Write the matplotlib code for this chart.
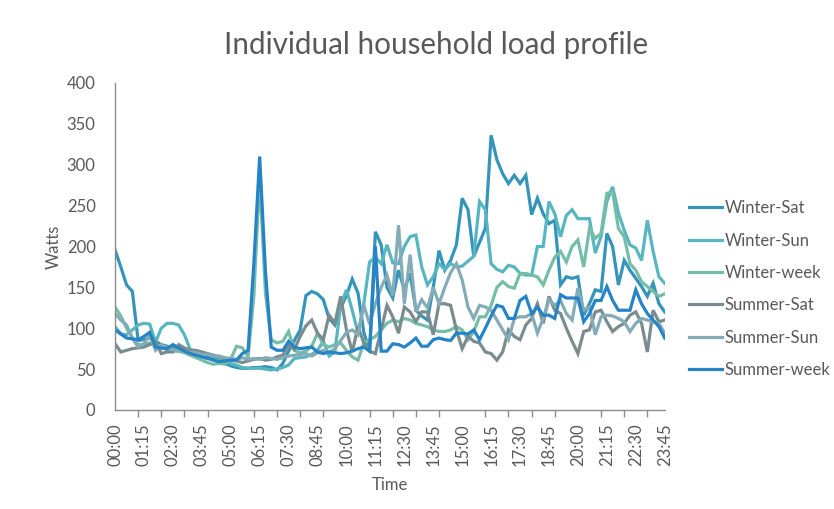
import matplotlib
matplotlib.use("Agg")
import matplotlib.pyplot as plt

plt.rcParams['font.family'] = ['Lato', 'DejaVu Sans']

# 15-minute slots, 00:00 .. 23:45
times = [f"{h:02d}:{m:02d}" for h in range(24) for m in (0, 15, 30, 45)]

winter_sat = [196, 175, 153, 145, 85, 86, 88, 84, 80, 78, 76, 75, 74, 72, 70, 68,
              65, 62, 60, 57, 54, 52, 51, 51, 52, 52, 53, 52, 49, 57, 72, 85,
              98, 140, 145, 142, 135, 112, 104, 125, 140, 160, 143, 95, 72, 218, 202, 150,
              137, 171, 147, 167, 122, 115, 110, 150, 195, 171, 183, 202, 259, 245, 188, 205,
              222, 336, 306, 289, 277, 287, 277, 287, 239, 259, 240, 228, 232, 153, 163, 161,
              163, 116, 130, 147, 145, 216, 200, 153, 183, 171, 161, 151, 139, 155, 130, 120]
winter_sun = [102, 93, 92, 98, 104, 106, 105, 83, 100, 106, 106, 104, 92, 74, 72, 70,
              68, 66, 63, 60, 57, 55, 52, 51, 51, 51, 50, 49, 50, 52, 55, 63,
              64, 65, 68, 73, 84, 66, 71, 128, 147, 122, 94, 130, 181, 187, 179, 202,
              180, 179, 200, 212, 214, 175, 153, 163, 179, 172, 179, 175, 176, 182, 188, 255,
              245, 179, 172, 169, 177, 175, 167, 165, 165, 200, 200, 255, 240, 212, 238, 245,
              234, 234, 234, 192, 212, 255, 273, 241, 220, 202, 198, 183, 232, 194, 163, 155]
winter_week = [126, 115, 100, 88, 80, 80, 82, 78, 76, 74, 72, 72, 70, 67, 64, 61,
               58, 56, 57, 56, 62, 78, 76, 65, 140, 285, 143, 86, 82, 84, 96, 73,
               70, 72, 78, 94, 80, 77, 80, 82, 73, 65, 61, 82, 86, 90, 98, 106,
               110, 108, 112, 110, 106, 104, 102, 98, 96, 96, 98, 102, 98, 86, 96, 114,
               114, 128, 150, 157, 151, 149, 167, 167, 165, 163, 153, 171, 187, 194, 181, 200,
               208, 175, 222, 210, 216, 265, 267, 222, 212, 179, 171, 157, 151, 145, 139, 142]
summer_sat = [81, 71, 73, 75, 76, 77, 80, 84, 69, 71, 71, 80, 76, 73, 73, 71,
              69, 67, 65, 63, 61, 60, 58, 60, 62, 63, 61, 62, 65, 67, 80, 74,
              90, 103, 110, 94, 86, 116, 106, 139, 98, 71, 102, 82, 72, 69, 98, 128,
              114, 94, 126, 120, 108, 120, 120, 92, 130, 130, 128, 98, 75, 90, 84, 82,
              71, 69, 61, 71, 98, 90, 86, 104, 112, 130, 106, 139, 122, 118, 100, 84,
              69, 96, 98, 120, 122, 108, 96, 102, 106, 116, 120, 106, 71, 122, 108, 110]
summer_sun = [118, 110, 104, 88, 77, 81, 92, 73, 80, 76, 74, 72, 72, 70, 70, 68,
              68, 66, 66, 64, 63, 62, 64, 62, 63, 62, 64, 63, 62, 64, 66, 67,
              68, 69, 66, 70, 73, 70, 75, 85, 95, 98, 92, 128, 105, 130, 150, 165,
              140, 226, 130, 190, 120, 135, 125, 150, 130, 150, 168, 179, 159, 126, 112, 128,
              126, 122, 110, 98, 86, 112, 114, 114, 118, 94, 112, 135, 128, 134, 118, 110,
              149, 122, 126, 92, 114, 116, 115, 112, 108, 96, 106, 112, 110, 108, 106, 94]
summer_week = [98, 93, 88, 87, 86, 90, 95, 77, 76, 75, 80, 76, 72, 69, 67, 65,
               63, 61, 59, 60, 61, 61, 69, 73, 180, 310, 170, 77, 73, 73, 84, 77,
               75, 76, 77, 71, 69, 71, 70, 69, 70, 72, 75, 77, 72, 200, 72, 72,
               81, 80, 77, 82, 88, 78, 78, 86, 88, 86, 85, 94, 94, 93, 98, 86,
               100, 115, 128, 126, 112, 112, 134, 139, 118, 126, 116, 116, 112, 141, 137, 137,
               137, 108, 118, 134, 134, 151, 134, 122, 122, 122, 147, 130, 118, 110, 102, 88]

series = [("Winter-Sat", winter_sat, "#3494BA"),
          ("Winter-Sun", winter_sun, "#58B6C0"),
          ("Winter-week", winter_week, "#75BDA7"),
          ("Summer-Sat", summer_sat, "#7A8C8E"),
          ("Summer-Sun", summer_sun, "#84ACB6"),
          ("Summer-week", summer_week, "#2683C6")]

txt = "#595959"
axc = "#8c8c8c"

fig = plt.figure(figsize=(8.34, 5.09), dpi=100)
ax = fig.add_axes([0.1379, 0.1945, 0.797 - 0.1379, 0.837 - 0.1945])

x = list(range(len(times)))
for name, vals, col in series:
    ax.plot(x, vals, color=col, lw=2.3, label=name, solid_joinstyle='miter')

ax.set_xlim(0, len(times) - 1)
ax.set_ylim(0, 400)
ax.set_yticks(range(0, 401, 50))

# labels every 75 min, tick marks every hour
ax.set_xticks(x[::5])
ax.set_xticklabels(times[::5], rotation=90)
ax.set_xticks(x[::4], minor=True)
ax.tick_params(axis='x', which='major', length=0, pad=9.5, labelsize=12, labelcolor=txt)
ax.tick_params(axis='x', which='minor', length=5, width=1, color=axc, direction='out')
ax.tick_params(axis='y', length=0, pad=14, labelsize=12, labelcolor=txt)

for s in ['top', 'right']:
    ax.spines[s].set_visible(False)
for s in ['left', 'bottom']:
    ax.spines[s].set_color(axc)
    ax.spines[s].set_linewidth(1)

ax.set_ylabel("Watts", fontsize=12, color=txt)
ax.yaxis.set_label_coords(-0.097, 0.5)
ax.set_xlabel("Time", fontsize=12, color=txt)
ax.xaxis.set_label_coords(0.5, -0.205)

fig.text(0.523, 1 - 45 / 509, "Individual household load profile",
         ha='center', va='center', fontsize=21.3, color=txt)

leg = ax.legend(loc='center left', bbox_to_anchor=(0.808, 0.432),
                bbox_transform=fig.transFigure, frameon=False, fontsize=12,
                handlelength=2.0, handletextpad=0.15, labelspacing=0.98,
                borderpad=0.4)
for t in leg.get_texts():
    t.set_color(txt)

fig.savefig("out.png", dpi=100)
